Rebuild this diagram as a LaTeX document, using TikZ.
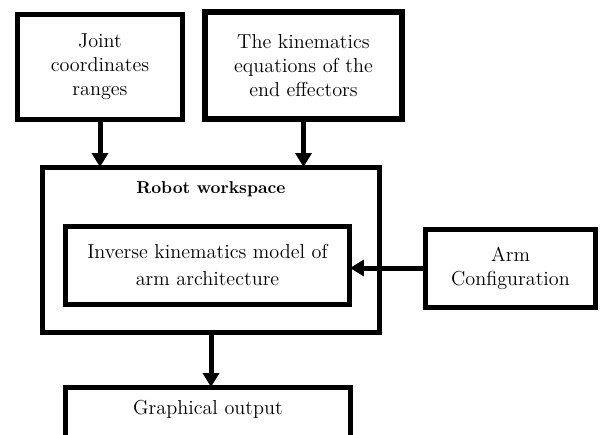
\documentclass[tikz,border=0pt]{standalone}
\usepackage{tikz}
\usetikzlibrary{arrows.meta,shapes}
\tikzset{
  blocknode/.style = {align=center, inner sep=0pt, outer sep=0pt, text centered,
    font=\fontsize{11.5}{13.6}\selectfont},
  blk_n/.style = {blocknode, rectangle, draw=black, line width=0.1cm},% block, normal border
  blk_g/.style = {blocknode, rectangle, draw=black, line width=0.12cm},% block, heavy border
  titlelab/.style 2 args = {label={[anchor=base, yshift=-#1, inner sep=0pt]north:#2}}% text at top of block
}

\begin{document}
\begin{tikzpicture}[x=0.02cm, y=-0.02cm, ->, >={Triangle[length=0.28cm, width=0.32cm]},
  line width=0.1cm]
\useasboundingbox (0,0) rectangle (608,434);
\clip (0,0) rectangle (608,434);
\node [blk_n, minimum width=3.32cm, minimum height=2.12cm] (jnt) at (100,67)
  {Joint\\coordinates\\ranges};
\node [blk_g, minimum width=3.94cm, minimum height=2.14cm] (kin) at (303.5,65.5)
  {The kinematics\\equations of the\\end effectors};
\node [blk_n, minimum width=6.76cm, minimum height=3.32cm,
  titlelab={0.52cm}{\fontsize{9.8}{12}\selectfont\bfseries Robot workspace}] (ws) at (211,250) {};
\node [blk_n, minimum width=5.7cm, minimum height=1.56cm,
  font=\fontsize{11.5}{15.3}\selectfont] (ikm) at (207.5,265)
  {Inverse kinematics model of\\arm architecture};
\node [blk_n, minimum width=3.42cm, minimum height=1.56cm] (arm) at (510.5,268)
  {Arm\\Configuration};
\node [blk_n, minimum width=5.72cm, minimum height=2cm,
  titlelab={0.54cm}{\fontsize{11.5}{13.6}\selectfont Graphical output}] (gout) at (208,437) {};

\draw (jnt.south) -- (jnt.south |- ws.north);
\draw (kin.south) -- (kin.south |- ws.north);
\draw (arm.west) -- (arm.west -| ikm.east);
\draw (ws.south) -- (ws.south |- gout.north);
\end{tikzpicture}
\end{document}
